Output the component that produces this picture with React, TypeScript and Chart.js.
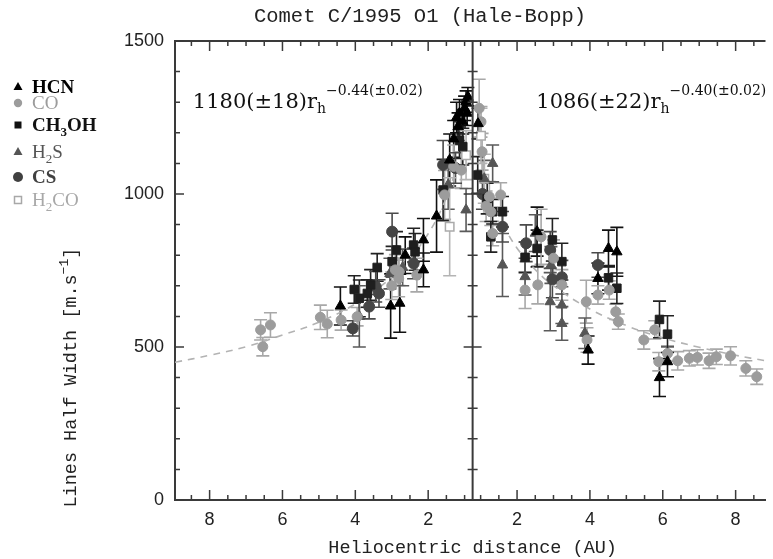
import React, { useEffect, useRef } from "react";
import { Chart, registerables } from "chart.js";

Chart.register(...registerables);

// ---------- text ----------
const TITLE = "Comet C/1995 O1 (Hale-Bopp)";
const X_TITLE = "Heliocentric distance (AU)";

// ---------- axes ----------
const PERIHELION = 0.78; // rh at the central (perihelion) line
const RH_MAX_PRE = 8.95;
const RH_MAX_POST = 8.82;
const X_MAJOR_AU = [2, 4, 6, 8];
const X_MINOR_AU = [1, 1.5, 2.5, 3, 3.5, 4.5, 5, 5.5, 6.5, 7, 7.5, 8.5];
const Y_MAJOR = [0, 500, 1000, 1500];
const Y_MINOR = [100, 200, 300, 400, 600, 700, 800, 900, 1100, 1200, 1300, 1400];

// ---------- data: [rh (AU), half width (m/s), error (m/s)] ----------
type Pt = [number, number, number];

const HCN_PRE: Pt[] = [
  [4.41, 634, 62], [3.03, 634, 105], [2.78, 643, 95], [2.63, 800, 60],
  [2.13, 850, 70], [2.13, 752, 55], [1.77, 928, 118], [1.41, 1111, 85],
  [1.30, 1180, 60], [1.22, 1250, 50], [1.18, 1220, 45], [1.14, 1264, 45],
  [1.05, 1236, 40], [1.00, 1280, 40], [0.96, 1302, 35], [0.91, 1318, 30],
  [0.93, 1264, 40],
];
const HCN_POST: Pt[] = [
  [0.93, 1230, 50], [2.55, 877, 80], [3.95, 490, 46], [4.22, 724, 50],
  [4.51, 822, 60], [4.74, 811, 80], [5.91, 400, 62], [6.13, 452, 49],
];

const CO_PRE: Pt[] = [
  [6.60, 556, 33], [6.54, 501, 30], [6.33, 572, 40], [4.96, 597, 40],
  [4.77, 575, 45], [4.39, 588, 33], [3.95, 599, 30], [3.00, 700, 45],
  [2.90, 752, 50], [2.81, 724, 60], [2.80, 746, 45], [2.31, 735, 55],
  [1.55, 997, 80], [1.30, 1090, 70], [1.09, 1078, 60],
];
const CO_POST: Pt[] = [
  [0.96, 1280, 95], [1.01, 1236, 50], [1.04, 1138, 60], [1.15, 960, 50],
  [1.24, 991, 50], [1.28, 942, 45], [1.33, 871, 40], [1.55, 997, 40],
  [2.22, 686, 60], [2.57, 703, 62], [2.66, 860, 90], [3.00, 790, 60],
  [3.23, 703, 50], [3.90, 648, 70], [3.92, 523, 40], [4.22, 670, 30],
  [4.53, 686, 30], [4.71, 615, 25], [4.78, 583, 25], [5.48, 523, 30],
  [5.78, 556, 30], [5.89, 452, 30], [6.13, 479, 25], [6.41, 455, 30],
  [6.73, 463, 25], [6.95, 466, 25], [7.27, 455, 25], [7.47, 468, 25],
  [7.86, 471, 30], [8.28, 430, 25], [8.58, 403, 25],
];

const CH3OH_PRE: Pt[] = [
  [4.03, 688, 45], [3.89, 659, 60], [3.67, 675, 45], [3.58, 703, 50],
  [3.40, 760, 45], [2.99, 779, 50], [2.87, 817, 60], [2.40, 833, 55],
  [2.36, 811, 60], [1.59, 1013, 100], [1.14, 1176, 60], [1.05, 1155, 60],
];
const CH3OH_POST: Pt[] = [
  [0.92, 1062, 60], [1.18, 985, 50], [1.28, 860, 50], [1.33, 942, 40],
  [1.60, 942, 50], [2.22, 793, 50], [2.55, 822, 60], [2.97, 850, 70],
  [3.23, 779, 60], [4.51, 726, 40], [4.74, 692, 50], [5.91, 590, 60],
  [6.13, 542, 60],
];

const H2S_PRE: Pt[] = [
  [3.89, 600, 100], [3.05, 740, 50], [2.70, 760, 60], [1.45, 1030, 80],
  [0.96, 948, 70],
];
const H2S_POST: Pt[] = [
  [1.10, 1050, 60], [1.33, 1100, 60], [1.60, 768, 103], [2.22, 730, 60],
  [2.50, 872, 60], [2.91, 648, 95], [2.93, 768, 60], [3.23, 637, 60],
  [3.23, 577, 55], [3.86, 545, 50],
];

const CS_PRE: Pt[] = [
  [4.07, 561, 25], [3.62, 632, 40], [3.44, 697, 50], [3.35, 675, 45],
  [2.99, 877, 60], [2.40, 773, 50], [1.59, 1095, 80], [1.25, 1085, 50],
];
const CS_POST: Pt[] = [
  [1.05, 1000, 50], [1.60, 893, 50], [2.25, 839, 60], [2.91, 817, 60],
  [2.97, 721, 60], [3.23, 728, 55], [4.22, 768, 40],
];

const H2CO_PRE: Pt[] = [[1.41, 893, 160], [0.96, 1127, 80]];
const H2CO_POST: Pt[] = [[1.01, 1190, 90], [1.10, 1050, 80]];

// dashed fits
const FIT_PRE_RH = [8.95, 8, 7, 6, 5, 4, 3, 2.5, 2, 1.6, 1.2];
const FIT_PRE_W = [450, 473, 501, 539, 581, 641, 728, 789, 870, 960, 1089];
const FIT_POST_RH = [1.6, 2, 2.5, 3, 4, 5, 6, 7, 8, 8.82];
const FIT_POST_W = [900, 823, 753, 700, 624, 570, 530, 499, 473, 455];

// ---------- helpers ----------
const toX = (rh: number, side: number) => side * (rh - PERIHELION);
const toPoints = (pre: Pt[], post: Pt[]) => [
  ...pre.map(([r, w, e]) => ({ x: toX(r, -1), y: w, e })),
  ...post.map(([r, w, e]) => ({ x: toX(r, 1), y: w, e })),
];
const toLine = (rh: number[], w: number[], side: number) =>
  rh.map((r, i) => ({ x: toX(r, side), y: w[i] }));

const AXIS_COLOR = "#3a3a3a";
const MONO = "'Liberation Mono', 'DejaVu Sans Mono', monospace";
const SERIF_ANNOT = "'DejaVu Serif', serif";
const SERIF_LEG = "'Liberation Serif', serif";
const SANS = "'Liberation Sans', Arial, sans-serif";

type Seg = { t: string; size: number; dy?: number; bold?: boolean };

function drawSegs(
  ctx: CanvasRenderingContext2D,
  segs: Seg[],
  x: number,
  y: number,
  family: string,
  color: string,
  center: boolean
) {
  const fontOf = (s: Seg) => `${s.bold ? "bold " : ""}${s.size}px ${family}`;
  const widths = segs.map((s) => {
    ctx.font = fontOf(s);
    return ctx.measureText(s.t).width;
  });
  const total = widths.reduce((a, b) => a + b, 0);
  let cx = center ? x - total / 2 : x;
  ctx.fillStyle = color;
  ctx.textAlign = "left";
  ctx.textBaseline = "alphabetic";
  segs.forEach((s, i) => {
    ctx.font = fontOf(s);
    ctx.fillText(s.t, cx, y + (s.dy || 0));
    cx += widths[i];
  });
}

const SPECIES = [
  { label: "HCN", pre: HCN_PRE, post: HCN_POST, style: "triangle", color: "#000000", err: "#111111", r: 6, fill: true },
  { label: "CO", pre: CO_PRE, post: CO_POST, style: "circle", color: "#9c9c9c", err: "#a8a8a8", r: 5, fill: true },
  { label: "CH3OH", pre: CH3OH_PRE, post: CH3OH_POST, style: "rect", color: "#1e1e1e", err: "#222222", r: 6, fill: true },
  { label: "H2S", pre: H2S_PRE, post: H2S_POST, style: "triangle", color: "#555555", err: "#5a5a5a", r: 6, fill: true },
  { label: "CS", pre: CS_PRE, post: CS_POST, style: "circle", color: "#454545", err: "#4a4a4a", r: 5.5, fill: true },
  { label: "H2CO", pre: H2CO_PRE, post: H2CO_POST, style: "rect", color: "#aaaaaa", err: "#b4b4b4", r: 6, fill: false },
];

const LEGEND = [
  { segs: [{ t: "HCN", size: 19, bold: true }], color: "#000", base: 93, mark: "tri", mcol: "#000" },
  { segs: [{ t: "CO", size: 19 }], color: "#9c9c9c", base: 109, mark: "circ", mcol: "#9c9c9c" },
  { segs: [{ t: "CH", size: 19, bold: true }, { t: "3", size: 13, dy: 5, bold: true }, { t: "OH", size: 19, bold: true }], color: "#111", base: 131, mark: "sq", mcol: "#111" },
  { segs: [{ t: "H", size: 19 }, { t: "2", size: 13, dy: 5 }, { t: "S", size: 19 }], color: "#555", base: 158, mark: "tri", mcol: "#555" },
  { segs: [{ t: "CS", size: 19, bold: true }], color: "#404040", base: 183, mark: "bigcirc", mcol: "#404040" },
  { segs: [{ t: "H", size: 19 }, { t: "2", size: 13, dy: 5 }, { t: "CO", size: 19 }], color: "#a8a8a8", base: 206, mark: "osq", mcol: "#a8a8a8" },
];

const errorBarPlugin = {
  id: "errorBars",
  beforeDatasetsDraw(chart: any) {
    const { ctx, scales } = chart;
    const xs = scales.x;
    const ys = scales.y;
    const cap = 6.5;
    chart.data.datasets.forEach((ds: any) => {
      if (!ds.errColor) return;
      ctx.save();
      ctx.strokeStyle = ds.errColor;
      ctx.lineWidth = 1.6;
      ds.data.forEach((p: any) => {
        const px = xs.getPixelForValue(p.x);
        const y1 = ys.getPixelForValue(p.y - p.e);
        const y2 = ys.getPixelForValue(p.y + p.e);
        ctx.beginPath();
        ctx.moveTo(px, y1);
        ctx.lineTo(px, y2);
        ctx.moveTo(px - cap, y1);
        ctx.lineTo(px + cap, y1);
        ctx.moveTo(px - cap, y2);
        ctx.lineTo(px + cap, y2);
        ctx.stroke();
      });
      ctx.restore();
    });
  },
};

const decorPlugin = {
  id: "decor",
  afterDraw(chart: any) {
    const { ctx, chartArea, scales } = chart;
    const xs = scales.x;
    const ys = scales.y;
    const { left, right, top, bottom } = chartArea;
    const cx = xs.getPixelForValue(0);
    ctx.save();
    ctx.strokeStyle = AXIS_COLOR;
    ctx.lineWidth = 2;
    // top frame line and central perihelion line
    ctx.beginPath();
    ctx.moveTo(left, top);
    ctx.lineTo(right, top);
    ctx.moveTo(cx, top);
    ctx.lineTo(cx, bottom);
    ctx.stroke();

    ctx.lineWidth = 1.5;
    ctx.beginPath();
    // y ticks: left axis (inward) and centre line (both sides)
    const yt = (v: number, len: number) => {
      const py = ys.getPixelForValue(v);
      ctx.moveTo(left, py);
      ctx.lineTo(left + len, py);
      ctx.moveTo(cx - len, py);
      ctx.lineTo(cx + len, py);
    };
    Y_MAJOR.forEach((v) => yt(v, 9));
    Y_MINOR.forEach((v) => yt(v, 5));
    // x ticks: bottom (up) and top (down)
    const xt = (rh: number, len: number) => {
      [-1, 1].forEach((side) => {
        const px = xs.getPixelForValue(toX(rh, side));
        if (px < left || px > right) return;
        ctx.moveTo(px, bottom);
        ctx.lineTo(px, bottom - len);
        ctx.moveTo(px, top);
        ctx.lineTo(px, top + len);
      });
    };
    X_MAJOR_AU.forEach((r) => xt(r, 10));
    X_MINOR_AU.forEach((r) => xt(r, 5));
    ctx.stroke();

    // title
    drawSegs(ctx, [{ t: TITLE, size: 20.5 }], 420, 22, MONO, "#222", true);
    // x axis title
    drawSegs(ctx, [{ t: X_TITLE, size: 18.5 }], cx, 553, MONO, "#222", true);
    // y axis title
    ctx.save();
    ctx.translate(76, ys.getPixelForValue(400));
    ctx.rotate(-Math.PI / 2);
    drawSegs(
      ctx,
      [
        { t: "Lines Half Width [m.s", size: 18.5 },
        { t: "\u22121", size: 13, dy: -8 },
        { t: "]", size: 18.5 },
      ],
      0,
      0,
      MONO,
      "#222",
      true
    );
    ctx.restore();

    // fit annotations
    const annY = ys.getPixelForValue(1281);
    drawSegs(
      ctx,
      [
        { t: "1180(\u00b118)r", size: 21 },
        { t: "h", size: 14, dy: 5 },
        { t: "\u22120.44(\u00b10.02)", size: 14, dy: -13 },
      ],
      xs.getPixelForValue(-7.68),
      annY,
      SERIF_ANNOT,
      "#111",
      false
    );
    drawSegs(
      ctx,
      [
        { t: "1086(\u00b122)r", size: 21 },
        { t: "h", size: 14, dy: 5 },
        { t: "\u22120.40(\u00b10.02)", size: 14, dy: -13 },
      ],
      xs.getPixelForValue(1.75),
      annY,
      SERIF_ANNOT,
      "#111",
      false
    );

    // legend
    LEGEND.forEach((it) => {
      const my = it.base - 6;
      const mx = 18;
      ctx.fillStyle = it.mcol;
      ctx.strokeStyle = it.mcol;
      ctx.lineWidth = 1.5;
      ctx.beginPath();
      if (it.mark === "tri") {
        ctx.moveTo(mx, my - 5);
        ctx.lineTo(mx + 4.5, my + 3);
        ctx.lineTo(mx - 4.5, my + 3);
        ctx.closePath();
        ctx.fill();
      } else if (it.mark === "circ") {
        ctx.arc(mx, my, 4.2, 0, Math.PI * 2);
        ctx.fill();
      } else if (it.mark === "bigcirc") {
        ctx.arc(mx, my, 5, 0, Math.PI * 2);
        ctx.fill();
      } else if (it.mark === "sq") {
        ctx.rect(mx - 3.5, my - 3.5, 7, 7);
        ctx.fill();
      } else {
        ctx.rect(mx - 3.5, my - 3.5, 7, 7);
        ctx.stroke();
      }
      drawSegs(ctx, it.segs as Seg[], 32, it.base, SERIF_LEG, it.color, false);
    });
    ctx.restore();
  },
};

export default function App() {
  const ref = useRef<HTMLCanvasElement>(null);
  useEffect(() => {
    if (!ref.current) return;
    const datasets: any[] = SPECIES.map((s, i) => ({
      label: s.label,
      data: toPoints(s.pre, s.post),
      pointStyle: s.style,
      pointRadius: s.r,
      pointBackgroundColor: s.fill ? s.color : "#ffffff",
      pointBorderColor: s.color,
      pointBorderWidth: s.fill ? 1 : 1.5,
      showLine: false,
      errColor: s.err,
      order: i + 1,
    }));
    datasets.push(
      {
        label: "fit pre",
        data: toLine(FIT_PRE_RH, FIT_PRE_W, -1),
        showLine: true,
        borderColor: "#b3b3b3",
        borderWidth: 1.6,
        borderDash: [7, 6],
        pointRadius: 0,
        tension: 0.4,
        order: 20,
      },
      {
        label: "fit post",
        data: toLine(FIT_POST_RH, FIT_POST_W, 1),
        showLine: true,
        borderColor: "#b3b3b3",
        borderWidth: 1.6,
        borderDash: [7, 6],
        pointRadius: 0,
        tension: 0.4,
        order: 21,
      }
    );

    const chart = new Chart(ref.current, {
      type: "scatter",
      data: { datasets },
      options: {
        animation: false,
        responsive: false,
        maintainAspectRatio: false,
        devicePixelRatio: 1,
        layout: { padding: { top: 41, left: 0, right: 0, bottom: 0 } },
        plugins: {
          legend: { display: false },
          title: { display: false },
          tooltip: { enabled: false },
        },
        scales: {
          x: {
            type: "linear",
            min: -(RH_MAX_PRE - PERIHELION),
            max: RH_MAX_POST - PERIHELION,
            afterBuildTicks: (scale: any) => {
              const vals = [
                ...X_MAJOR_AU.map((r) => toX(r, -1)),
                ...X_MAJOR_AU.map((r) => toX(r, 1)),
              ].sort((a, b) => a - b);
              scale.ticks = vals.map((v) => ({ value: v }));
            },
            afterFit: (scale: any) => {
              scale.height = 59;
            },
            grid: { display: false, drawTicks: false },
            border: { display: true, color: AXIS_COLOR, width: 2 },
            ticks: {
              autoSkip: false,
              maxRotation: 0,
              padding: 9,
              color: "#222",
              font: { family: SANS, size: 18 },
              callback: (v: any) => String(Math.round(Math.abs(Number(v)) + PERIHELION)),
            },
          },
          y: {
            type: "linear",
            min: 0,
            max: 1500,
            afterBuildTicks: (scale: any) => {
              scale.ticks = Y_MAJOR.map((v) => ({ value: v }));
            },
            afterFit: (scale: any) => {
              scale.width = 175;
            },
            grid: { display: false, drawTicks: false },
            border: { display: true, color: AXIS_COLOR, width: 2 },
            ticks: {
              padding: 11,
              color: "#222",
              font: { family: SANS, size: 18 },
              callback: (v: any) => String(v),
            },
          },
        },
      } as any,
      plugins: [errorBarPlugin, decorPlugin],
    });
    return () => chart.destroy();
  }, []);

  return (
    <div
      style={{
        position: "fixed",
        left: 0,
        top: 0,
        width: 773,
        height: 559,
        background: "#ffffff",
      }}
    >
      <canvas ref={ref} width={773} height={559} style={{ display: "block", width: 773, height: 559 }} />
    </div>
  );
}
